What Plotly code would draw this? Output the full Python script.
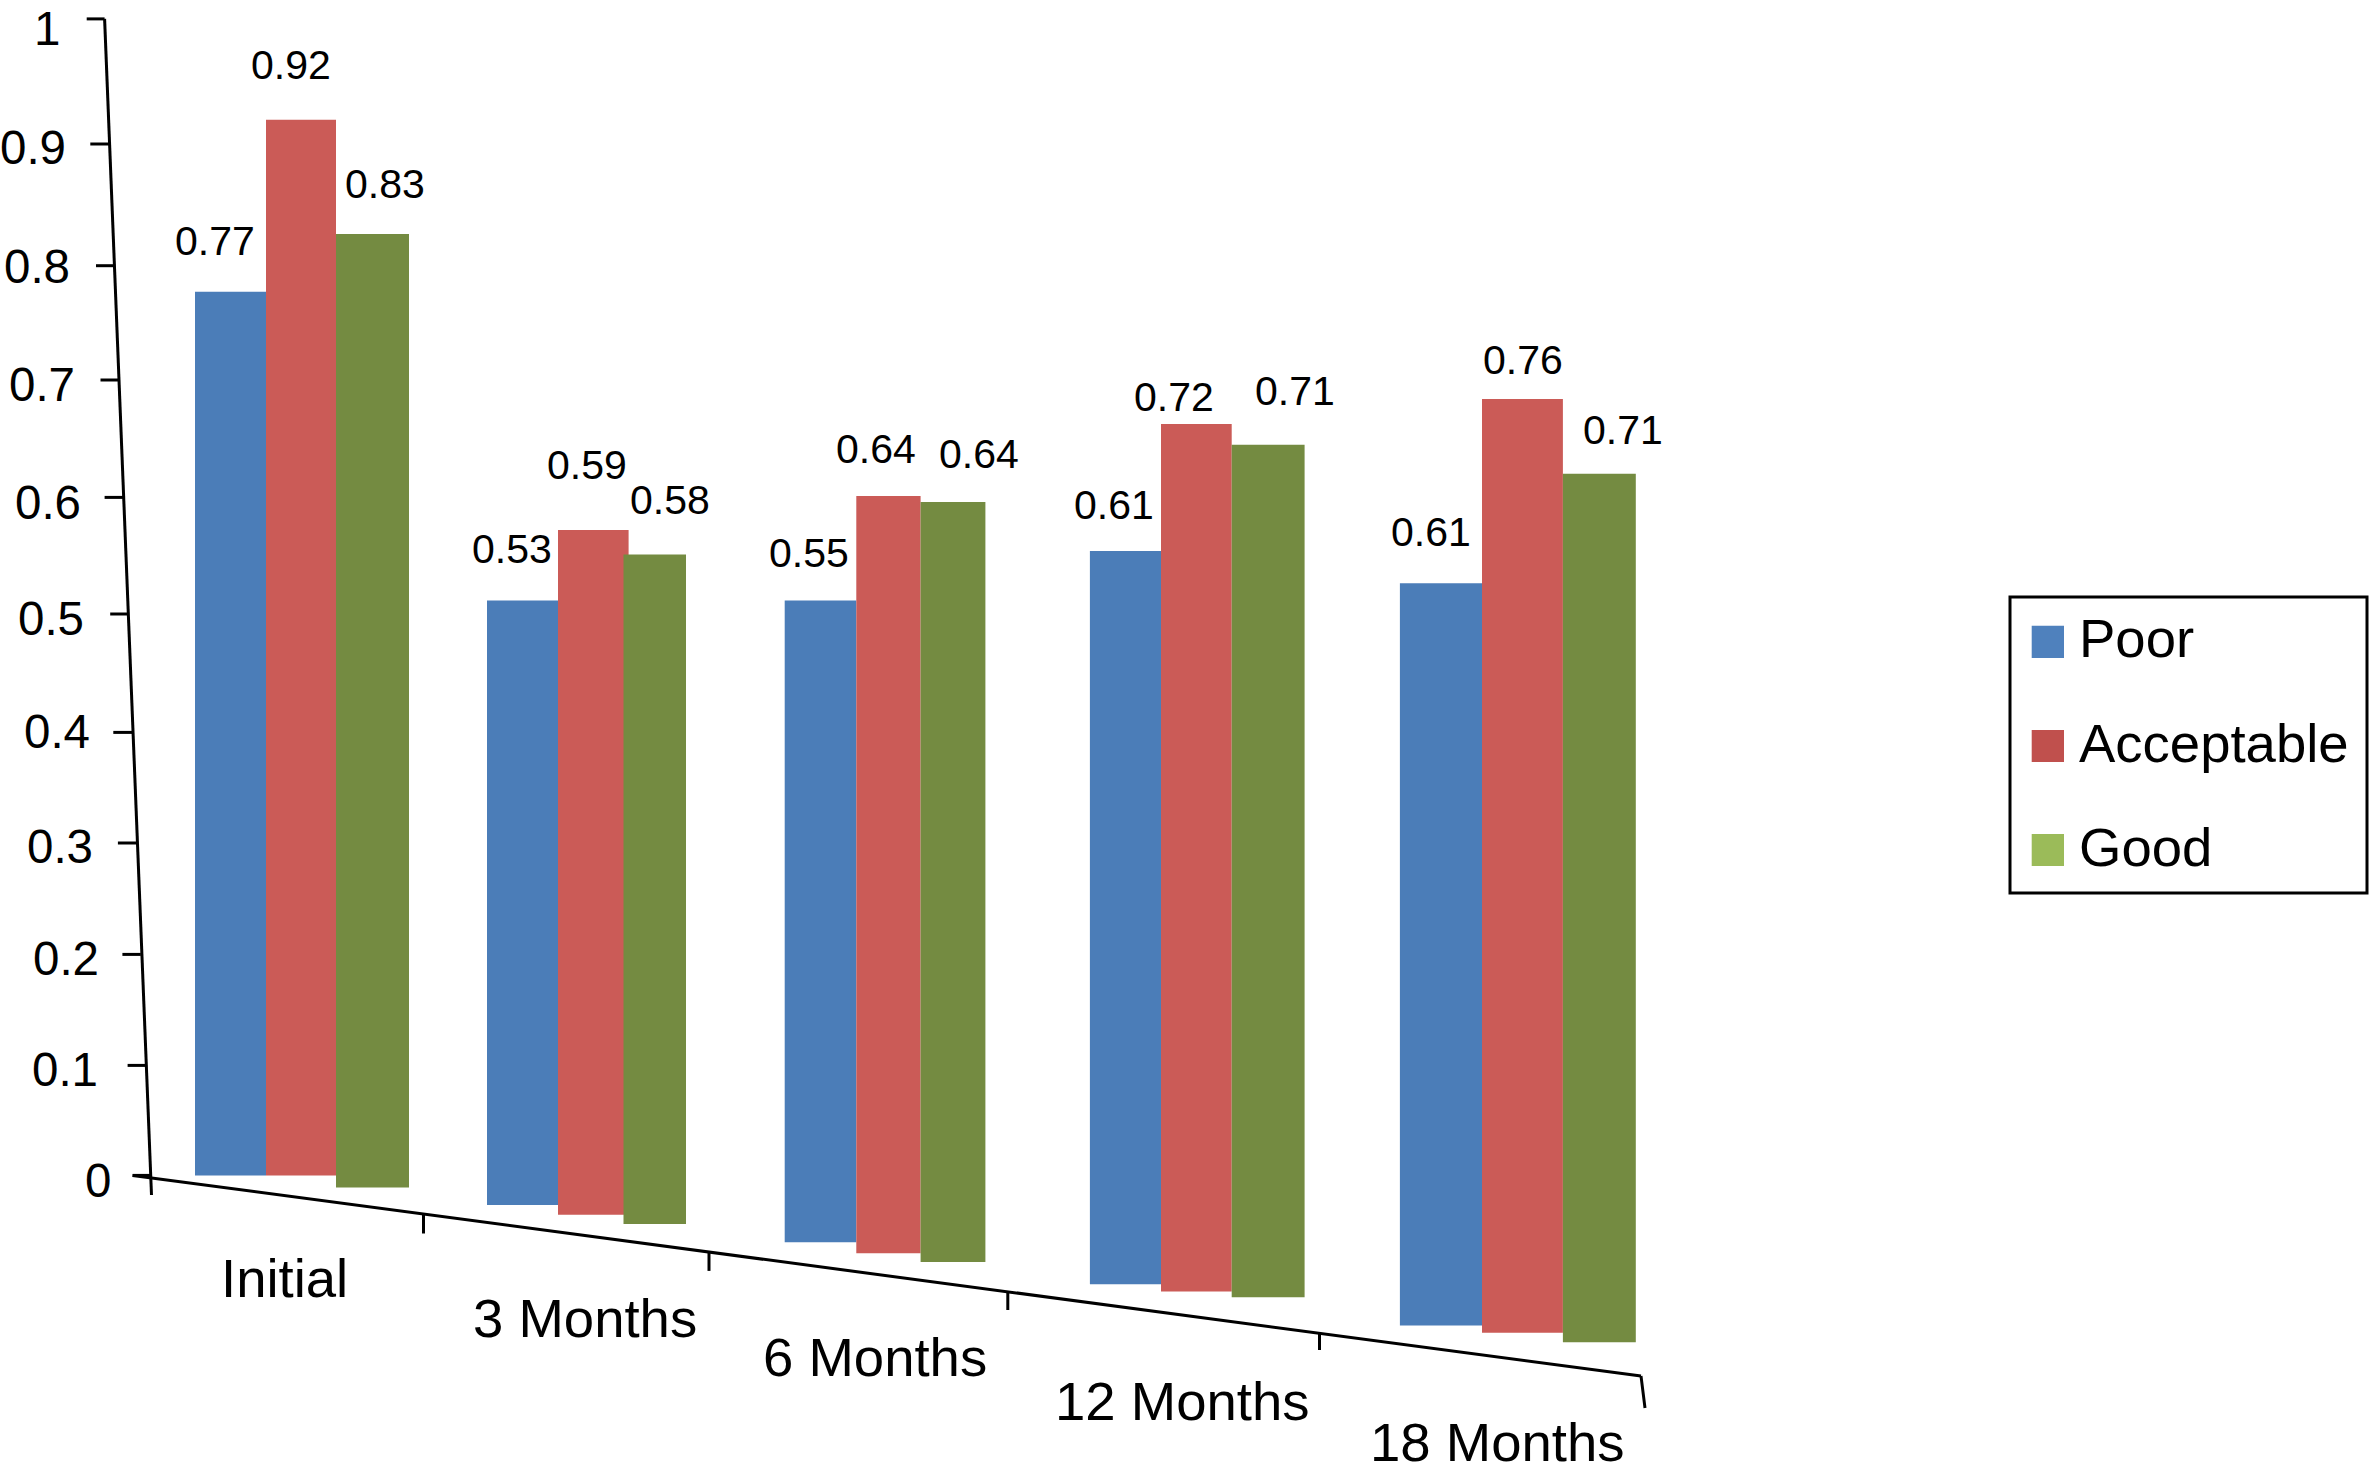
import plotly.graph_objects as go

# ---- data -------------------------------------------------------------
categories = ["Initial", "3 Months", "6 Months", "12 Months", "18 Months"]
series_names = ["Poor", "Acceptable", "Good"]
poor_labels = ["0.77", "0.53", "0.55", "0.61", "0.61"]
acceptable_labels = ["0.92", "0.59", "0.64", "0.72", "0.76"]
good_labels = ["0.83", "0.58", "0.64", "0.71", "0.71"]
# bar heights as drawn (perspective foreshortened), in units of the value axis
poor_heights = [0.764, 0.5225, 0.5549, 0.6342, 0.6418]
acceptable_heights = [0.9127, 0.5921, 0.6548, 0.7502, 0.8074]
good_heights = [0.8245, 0.5789, 0.6571, 0.7371, 0.7509]
tick_labels = ["1", "0.9", "0.8", "0.7", "0.6", "0.5", "0.4", "0.3", "0.2", "0.1", "0"]

# ---- perspective geometry (image pixels) ------------------------------
W, H = 2369, 1474
Y0, Y1 = 1175.4, 18.9
def u(py):
    return (Y0 - py) / (Y0 - Y1)

poor_base = [0, -0.0255, -0.0579, -0.0942, -0.1298]
acceptable_base = [0, -0.034, -0.0673, -0.1004, -0.1361]
good_base = [-0.0105, -0.042, -0.0748, -0.1054, -0.1442]
poor_edges = [(195, 266), (487, 558), (784.7, 856.3), (1089.9, 1161), (1399.9, 1482)]
acceptable_edges = [(266, 336), (558, 628.6), (856.3, 920.6), (1161, 1231.7), (1482, 1562.9)]
good_edges = [(336, 409), (623.5, 686), (920.6, 985.4), (1231.7, 1304.6), (1562.9, 1635.8)]
bar_colors = ["#4B7DB8", "#CB5B57", "#748B41"]
legend_colors = ["#4F81BD", "#C0504D", "#9BBB59"]
FONT = "Liberation Sans"

fig = go.Figure()
for name, heights, base, edges, color in zip(
    series_names,
    [poor_heights, acceptable_heights, good_heights],
    [poor_base, acceptable_base, good_base],
    [poor_edges, acceptable_edges, good_edges],
    bar_colors,
):
    fig.add_trace(go.Bar(
        name=name,
        x=[(a + b) / 2 for a, b in edges],
        width=[b - a for a, b in edges],
        y=heights,
        base=base,
        marker=dict(color=color, line=dict(width=0)),
        showlegend=False,
    ))

shapes = []
def line(x0, y0, x1, y1, w=3):
    shapes.append(dict(type="line", xref="x", yref="y", x0=x0, x1=x1, y0=u(y0), y1=u(y1),
                       line=dict(color="black", width=w), layer="above"))

# value axis
line(104.6, 18.9, 151.5, 1195)
ytick_left = [86.7, 90.3, 96, 100.5, 104.6, 110.2, 113.3, 117.9, 122.4, 127.6, 132.6]
ytick_right = [104.6, 109.7, 113.8, 118.4, 124, 128.6, 133, 137.8, 140.8, 146.4, 151.5]
ytick_y = [18.9, 144, 265.7, 380, 497.4, 614, 732.4, 843, 954.4, 1065.4, 1175.4]
for a, b, y in zip(ytick_left, ytick_right, ytick_y):
    line(a, y, b, y)
# category axis
line(132.6, 1175.4, 1641, 1376)
line(1641, 1376, 1645, 1408)
for x, y0, y1 in [(423.5, 1213.8, 1233.5), (709, 1251.7, 1270.9), (1007.8, 1293, 1310), (1319.5, 1334, 1350)]:
    line(x, y0, x, y1)

annotations = []
def text(s, x, y, size, anchor="center"):
    annotations.append(dict(text=s, x=x, y=u(y), xref="x", yref="y", showarrow=False,
                            xanchor=anchor, yanchor="middle", borderpad=0, borderwidth=0,
                            font=dict(family=FONT, size=size, color="black")))

tick_right = [60, 66, 70, 75, 80.6, 84, 90, 93.4, 98.5, 98, 110.7]
tick_y = [28, 147, 266, 384, 502, 618, 731, 846, 958, 1069, 1180]
for s, x, y in zip(tick_labels, tick_right, tick_y):
    text(s, x, y, 47.5, "right")

cat_x = [284, 584.5, 875, 1181.5, 1497]
cat_y = [1278, 1318, 1357, 1401, 1442]
for s, x, y in zip(categories, cat_x, cat_y):
    text(s, x, y, 54.5)

label_x = [[215, 512, 809, 1113.5, 1431], [291, 587, 876, 1174, 1523], [384.5, 670, 979, 1295, 1622.7]]
label_y = [[241, 549, 553, 505, 532], [65, 465, 449, 397, 360], [184, 500, 454, 391, 430]]
for labels, xs, ys in zip([poor_labels, acceptable_labels, good_labels], label_x, label_y):
    for s, x, y in zip(labels, xs, ys):
        text(s, x, y, 41)

# legend
shapes.append(dict(type="rect", xref="x", yref="y", x0=2010, x1=2367, y0=u(597), y1=u(893),
                   line=dict(color="black", width=3), fillcolor="white", layer="below"))
for name, color, y0, y1, ty in zip(series_names, legend_colors, [625.7, 730, 834], [658, 762, 866], [638, 743, 847]):
    shapes.append(dict(type="rect", xref="x", yref="y", x0=2031.7, x1=2064, y0=u(y0), y1=u(y1),
                       line=dict(width=0), fillcolor=color))
    text(name, 2078.5, ty, 54.5, "left")

fig.update_layout(
    barmode="overlay",
    margin=dict(l=0, r=0, t=0, b=0),
    paper_bgcolor="white",
    plot_bgcolor="white",
    xaxis=dict(range=[0, W], visible=False, fixedrange=True),
    yaxis=dict(range=[u(H), u(0)], visible=False, fixedrange=True),
    shapes=shapes,
    annotations=annotations,
    showlegend=False,
)
fig.write_html(
    "out.html",
    config=dict(displayModeBar=False),
    post_script="document.body.style.margin='0';document.documentElement.style.overflow='hidden';"
                "Plotly.Plots.resize(document.getElementById('{plot_id}'));",
)
